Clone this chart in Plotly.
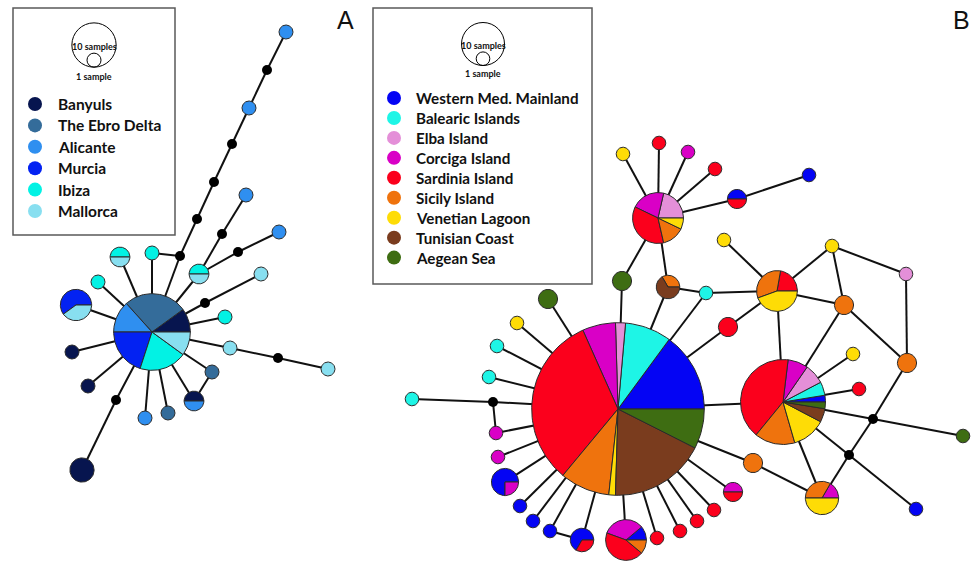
import numpy as np
import plotly.graph_objects as go

W, H = 971, 562

# ---------------- Panel A data ----------------
A_regions = ["Banyuls", "The Ebro Delta", "Alicante", "Murcia", "Ibiza", "Mallorca"]
A_colors = ["#07154f", "#346c9a", "#2f8ff0", "#0322f2", "#02f2e4", "#88dff0"]
A_hap_ids = ["a0", "a1", "a2", "a3", "a4", "a5", "a6", "a7", "a8", "a9", "a10",
             "a11", "a12", "a13", "a14", "a15", "a16", "a17", "a18", "a19", "a20"]
A_hap_x = [152, 76, 98, 120, 152, 199, 246, 279, 249, 286, 261, 225, 230, 328, 212, 194, 168, 145, 82, 88, 72]
A_hap_y = [332, 305, 282, 257, 253, 274, 195, 232, 108, 32, 274, 317, 348, 369, 372, 401, 413, 418, 470, 386, 352]
A_hap_counts = [
    [3, 8, 4, 6, 6, 3],
    [0, 0, 0, 3, 0, 2],
    [0, 0, 0, 0, 1, 0],
    [0, 0, 0, 0, 1, 1],
    [0, 0, 0, 0, 1, 0],
    [0, 0, 0, 0, 1, 1],
    [0, 0, 1, 0, 0, 0],
    [0, 0, 1, 0, 0, 0],
    [0, 0, 1, 0, 0, 0],
    [0, 0, 1, 0, 0, 0],
    [0, 0, 0, 0, 0, 1],
    [0, 0, 0, 0, 1, 0],
    [0, 0, 0, 0, 0, 1],
    [0, 0, 0, 0, 0, 1],
    [0, 1, 0, 0, 0, 0],
    [1, 0, 1, 0, 0, 0],
    [0, 1, 0, 0, 0, 0],
    [0, 0, 1, 0, 0, 0],
    [3, 0, 0, 0, 0, 0],
    [1, 0, 0, 0, 0, 0],
    [1, 0, 0, 0, 0, 0],
]
A_mv_ids = ["m0", "m1", "m2", "m3", "m4", "m5", "m6", "m7", "m8", "m9"]
A_mv_x = [180, 197, 214, 232, 267, 222, 238, 205, 278, 116]
A_mv_y = [256, 219, 182, 144, 70, 234, 252, 303, 358, 400]
A_edges = [
    ("a0", "m0"), ("a0", "a5"), ("a0", "m7"), ("a0", "a11"), ("a0", "a12"), ("a0", "a14"),
    ("a0", "a15"), ("a0", "a16"), ("a0", "a17"), ("a0", "m9"), ("a0", "a19"), ("a0", "a20"),
    ("a0", "a1"), ("a0", "a2"), ("a0", "a3"), ("a0", "a4"),
    ("a4", "m0"), ("m0", "m1"), ("m1", "m2"), ("m2", "m3"), ("m3", "a8"), ("a8", "m4"), ("m4", "a9"),
    ("a5", "m5"), ("m5", "a6"), ("a5", "m6"), ("m6", "a7"),
    ("m7", "a10"), ("a12", "m8"), ("m8", "a13"), ("a14", "a15"), ("m9", "a18"),
]
A_scale = 7.0  # radius of a 1-sample circle (px), r = scale*sqrt(n)

# ---------------- Panel B data ----------------
B_regions = ["Western Med. Mainland", "Balearic Islands", "Elba Island", "Corciga Island",
             "Sardinia Island", "Sicily Island", "Venetian Lagoon", "Tunisian Coast", "Aegean Sea"]
B_colors = ["#0404f4", "#1ef5e6", "#e48fd8", "#d900c6", "#fb001c", "#ef730d", "#fedc06", "#7a3c1e", "#3e6d12"]
B_hap_ids = ["b%d" % i for i in range(1, 44)]
B_hap_x = [618, 783, 658, 777, 822, 668, 737, 809, 623, 659, 688, 715, 622, 706, 724, 728, 832, 906, 844, 907,
           853, 859, 963, 916, 753, 733, 714, 697, 680, 657, 626, 582, 550, 533, 520, 505, 498, 496, 412, 489,
           497, 517, 548]
B_hap_y = [409, 402, 218, 291, 498, 287, 199, 175, 154, 143, 152, 169, 281, 293, 240, 327, 246, 274, 305, 363,
           354, 389, 436, 509, 463, 492, 510, 521, 531, 538, 540, 540, 531, 521, 506, 482, 457, 433, 399, 377,
           346, 323, 299]
B_hap_counts = [
    [24, 14, 3, 10, 52, 15, 2, 29, 12],
    [1, 2, 3, 3, 16, 6, 5, 2, 1],
    [0, 0, 3, 3, 5, 2, 1, 0, 0],
    [0, 0, 0, 0, 2, 3, 4, 0, 0],
    [0, 0, 0, 1, 0, 2, 3, 0, 0],
    [0, 0, 0, 0, 0, 1, 0, 2, 0],
    [1, 0, 0, 0, 1, 0, 0, 0, 0],
    [1, 0, 0, 0, 0, 0, 0, 0, 0],
    [0, 0, 0, 0, 0, 0, 1, 0, 0],
    [0, 0, 0, 0, 1, 0, 0, 0, 0],
    [0, 0, 0, 1, 0, 0, 0, 0, 0],
    [0, 0, 0, 0, 1, 0, 0, 0, 0],
    [0, 0, 0, 0, 0, 0, 0, 0, 2],
    [0, 1, 0, 0, 0, 0, 0, 0, 0],
    [0, 0, 0, 0, 0, 0, 1, 0, 0],
    [0, 0, 0, 0, 2, 0, 0, 0, 0],
    [0, 0, 0, 0, 0, 0, 1, 0, 0],
    [0, 0, 1, 0, 0, 0, 0, 0, 0],
    [0, 0, 0, 0, 0, 2, 0, 0, 0],
    [0, 0, 0, 0, 0, 2, 0, 0, 0],
    [0, 0, 0, 0, 0, 0, 1, 0, 0],
    [0, 0, 0, 0, 1, 0, 0, 0, 0],
    [0, 0, 0, 0, 0, 0, 0, 0, 1],
    [1, 0, 0, 0, 0, 0, 0, 0, 0],
    [0, 0, 0, 0, 0, 2, 0, 0, 0],
    [0, 0, 0, 1, 1, 0, 0, 0, 0],
    [0, 0, 0, 0, 1, 0, 0, 0, 0],
    [0, 0, 0, 0, 1, 0, 0, 0, 0],
    [0, 0, 0, 0, 1, 0, 0, 0, 0],
    [0, 0, 0, 0, 1, 0, 0, 0, 0],
    [1, 0, 0, 3, 4, 1, 0, 0, 0],
    [2, 0, 0, 0, 1, 0, 0, 0, 0],
    [1, 0, 0, 0, 0, 0, 0, 0, 0],
    [1, 0, 0, 0, 0, 0, 0, 0, 0],
    [1, 0, 0, 0, 0, 0, 0, 0, 0],
    [3, 0, 0, 1, 0, 0, 0, 0, 0],
    [0, 0, 0, 1, 0, 0, 0, 0, 0],
    [0, 0, 0, 1, 0, 0, 0, 0, 0],
    [0, 1, 0, 0, 0, 0, 0, 0, 0],
    [0, 1, 0, 0, 0, 0, 0, 0, 0],
    [0, 1, 0, 0, 0, 0, 0, 0, 0],
    [0, 0, 0, 0, 0, 0, 1, 0, 0],
    [0, 0, 0, 0, 0, 0, 0, 0, 2],
]
B_mv_ids = ["M1", "M2", "M3"]
B_mv_x = [493, 873, 849]
B_mv_y = [402, 419, 455]
B_edges = [
    ("b1", "b43"), ("b1", "b13"), ("b1", "b6"), ("b1", "b14"), ("b1", "b16"), ("b1", "b2"),
    ("b1", "b25"), ("b1", "b26"), ("b1", "b27"), ("b1", "b28"), ("b1", "b29"), ("b1", "b30"),
    ("b1", "b31"), ("b1", "b32"), ("b1", "b33"), ("b1", "b34"), ("b1", "b35"), ("b1", "b36"),
    ("b1", "b37"), ("b1", "b38"), ("b1", "M1"), ("b1", "b40"), ("b1", "b41"), ("b1", "b42"),
    ("M1", "b39"), ("M1", "b38"), ("b33", "b32"),
    ("b3", "b9"), ("b3", "b10"), ("b3", "b11"), ("b3", "b12"), ("b3", "b7"), ("b3", "b13"), ("b3", "b6"),
    ("b7", "b8"), ("b6", "b14"), ("b14", "b4"),
    ("b4", "b15"), ("b4", "b17"), ("b4", "b19"), ("b4", "b16"), ("b4", "b2"),
    ("b17", "b18"), ("b17", "b19"), ("b18", "b20"), ("b19", "b20"), ("b19", "b2"), ("b20", "M2"),
    ("b2", "b21"), ("b2", "b22"), ("b2", "M2"), ("b2", "M3"), ("b2", "b5"),
    ("M2", "b23"), ("M2", "M3"), ("M3", "b5"), ("M3", "b24"), ("b25", "b5"),
]
B_scale = 6.8

# size legend reference counts and panel labels
size_ref_counts = [10, 1]
size_ref_labels = ["10 samples", "1 sample"]
panel_labels = ["A", "B"]

# ---------------- layout constants ----------------
FONT = "Lato, 'Open Sans', sans-serif"
EDGE_COLOR = "#111111"
OUTLINE = "#2a2a2a"
MV_RADIUS = 5

fig = go.Figure()


def circle_pts(cx, cy, r, t0, t1, n=80):
    t = np.linspace(t0, t1, max(int(n * (t1 - t0) / (2 * np.pi)) + 2, 4))
    return cx + r * np.cos(t), cy - r * np.sin(t)


def draw_panel(regions, colors, hap_ids, hx, hy, counts, mv_ids, mx, my, edges, scale):
    pos = {}
    for i, hid in enumerate(hap_ids):
        pos[hid] = (hx[i], hy[i])
    for i, mid in enumerate(mv_ids):
        pos[mid] = (mx[i], my[i])
    ex, ey = [], []
    for a, b in edges:
        ex += [pos[a][0], pos[b][0], None]
        ey += [pos[a][1], pos[b][1], None]
    fig.add_trace(go.Scatter(x=ex, y=ey, mode="lines", line=dict(color=EDGE_COLOR, width=2),
                             hoverinfo="skip", showlegend=False))
    # pie wedges grouped by colour
    polys = {k: ([], []) for k in range(len(regions))}
    for i in range(len(hap_ids)):
        c = np.array(counts[i], dtype=float)
        tot = c.sum()
        r = scale * np.sqrt(tot)
        cx, cy = hx[i], hy[i]
        nz = np.nonzero(c)[0]
        if len(nz) == 1:
            xs, ys = circle_pts(cx, cy, r, 0, 2 * np.pi, 120)
            polys[nz[0]][0].extend(list(xs) + [None])
            polys[nz[0]][1].extend(list(ys) + [None])
            continue
        start = 0.0
        for k in nz:
            span = 2 * np.pi * c[k] / tot
            xs, ys = circle_pts(cx, cy, r, start, start + span, 160)
            polys[k][0].extend([cx] + list(xs) + [cx, None])
            polys[k][1].extend([cy] + list(ys) + [cy, None])
            start += span
    for k in range(len(regions)):
        if polys[k][0]:
            fig.add_trace(go.Scatter(x=polys[k][0], y=polys[k][1], mode="lines", fill="toself",
                                     fillcolor=colors[k], line=dict(color=OUTLINE, width=1),
                                     hoverinfo="skip", showlegend=False, name=regions[k]))
    # median vectors
    fig.add_trace(go.Scatter(x=mx, y=my, mode="markers",
                             marker=dict(color="black", size=2 * MV_RADIUS, line=dict(width=0)),
                             hoverinfo="skip", showlegend=False))


def draw_legend(box, size_cx, size_cy, scale, regions, colors, dot_x, dot_y0, dot_dy, text_x,
                lab_y, label, label_pos, font_size):
    fig.add_shape(type="rect", x0=box[0], y0=box[1], x1=box[2], y1=box[3],
                  line=dict(color="#5a5a5a", width=1.5), fillcolor="white", layer="below")
    rbig = scale * np.sqrt(size_ref_counts[0])
    rsm = scale * np.sqrt(size_ref_counts[1])
    fig.add_shape(type="circle", x0=size_cx - rbig, x1=size_cx + rbig, y0=size_cy - rbig, y1=size_cy + rbig,
                  line=dict(color="black", width=1))
    bottom = size_cy + rbig
    fig.add_shape(type="circle", x0=size_cx - rsm, x1=size_cx + rsm, y0=bottom - 2 * rsm, y1=bottom,
                  line=dict(color="black", width=1))
    fig.add_annotation(x=size_cx, y=size_cy + 1, text="<b>%s</b>" % size_ref_labels[0], showarrow=False,
                       font=dict(family=FONT, size=9, color="#111"), xanchor="center", yanchor="middle")
    fig.add_annotation(x=size_cx, y=lab_y, text="<b>%s</b>" % size_ref_labels[1], showarrow=False,
                       font=dict(family=FONT, size=9, color="#111"), xanchor="center", yanchor="middle")
    ys = [dot_y0 + i * dot_dy for i in range(len(regions))]
    fig.add_trace(go.Scatter(x=[dot_x] * len(regions), y=ys, mode="markers",
                             marker=dict(color=colors, size=14, line=dict(width=0)),
                             hoverinfo="skip", showlegend=False))
    for i, reg in enumerate(regions):
        fig.add_annotation(x=text_x, y=ys[i], text="<b>%s</b>" % reg, showarrow=False,
                           font=dict(family=FONT, size=font_size, color="#111"),
                           xanchor="left", yanchor="middle")
    fig.add_annotation(x=label_pos[0], y=label_pos[1], text=label, showarrow=False,
                       font=dict(family="Liberation Sans, Arial, sans-serif", size=25, color="#111"),
                       xanchor="center", yanchor="middle")


draw_panel(A_regions, A_colors, A_hap_ids, A_hap_x, A_hap_y, A_hap_counts,
           A_mv_ids, A_mv_x, A_mv_y, A_edges, A_scale)
draw_panel(B_regions, B_colors, B_hap_ids, B_hap_x, B_hap_y, B_hap_counts,
           B_mv_ids, B_mv_x, B_mv_y, B_edges, B_scale)

draw_legend((13, 8, 175, 235), 94, 45, A_scale, A_regions, A_colors, 35, 104, 21.4, 56, 76,
            panel_labels[0], (345, 20), 15.5)
draw_legend((373, 8, 592, 284), 483, 44, B_scale, B_regions, B_colors, 394, 98, 19.95, 414, 73,
            panel_labels[1], (961, 20), 15.2)

fig.update_layout(
    width=W, height=H, autosize=False,
    margin=dict(l=0, r=0, t=0, b=0),
    paper_bgcolor="white", plot_bgcolor="white",
    xaxis=dict(range=[0, W], visible=False, fixedrange=True),
    yaxis=dict(range=[H, 0], visible=False, fixedrange=True),
    showlegend=False,
)

fig.write_html("out.html", config={"displayModeBar": False},
               post_script="document.body.style.margin='0';document.body.style.overflow='hidden';")
